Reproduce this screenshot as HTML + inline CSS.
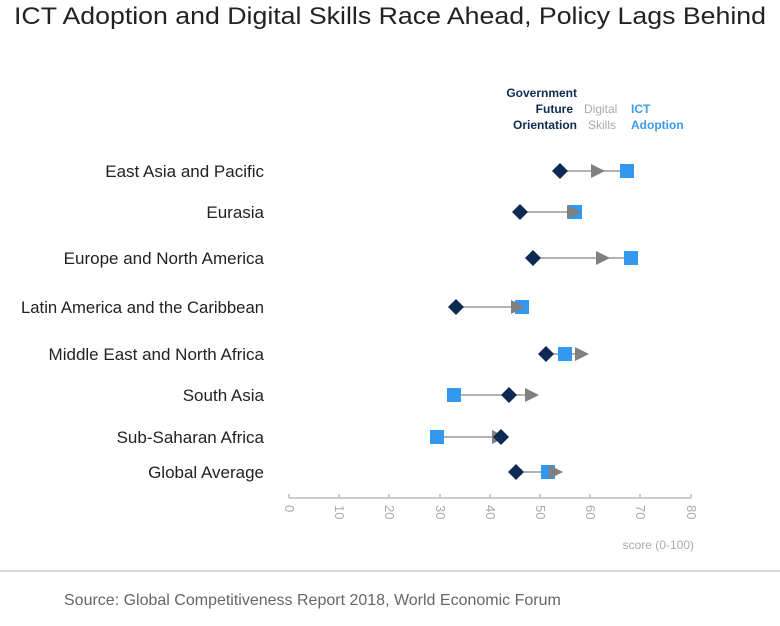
<!DOCTYPE html>
<html><head><style>
body{margin:0;background:#fff;width:780px;height:621px;overflow:hidden;font-family:"Liberation Sans",sans-serif}
</style></head><body>
<svg width="780" height="621" xmlns="http://www.w3.org/2000/svg" font-family="Liberation Sans, sans-serif">
<text x="390" y="24" text-anchor="middle" font-size="24" fill="#222" textLength="752" lengthAdjust="spacingAndGlyphs">ICT Adoption and Digital Skills Race Ahead, Policy Lags Behind</text>
<g font-size="12" font-weight="bold">
<text x="577" y="97" text-anchor="end" fill="#0d2b52">Government</text>
<text x="573" y="113" text-anchor="end" fill="#0d2b52">Future</text>
<text x="577" y="129" text-anchor="end" fill="#0d2b52">Orientation</text>
<text x="584" y="113" fill="#aaa" font-weight="normal">Digital</text>
<text x="588" y="129" fill="#aaa" font-weight="normal">Skills</text>
<text x="631" y="113" fill="#3a9be8">ICT</text>
<text x="631" y="129" fill="#3a9be8">Adoption</text>
</g>
<g font-size="17" fill="#222" text-anchor="end">
<text x="264" y="177">East Asia and Pacific</text>
<text x="264" y="218">Eurasia</text>
<text x="264" y="264">Europe and North America</text>
<text x="264" y="313" textLength="243" lengthAdjust="spacingAndGlyphs">Latin America and the Caribbean</text>
<text x="264" y="360">Middle East and North Africa</text>
<text x="264" y="401">South Asia</text>
<text x="264" y="443">Sub-Saharan Africa</text>
<text x="264" y="478">Global Average</text>
</g>
<g stroke="#999" stroke-width="1.5">
<line x1="560" y1="171" x2="627" y2="171"/>
<line x1="520" y1="212" x2="575" y2="212"/>
<line x1="533" y1="258" x2="631" y2="258"/>
<line x1="456" y1="307" x2="522" y2="307"/>
<line x1="546" y1="354" x2="582" y2="354"/>
<line x1="454" y1="395" x2="532" y2="395"/>
<line x1="437" y1="437" x2="501" y2="437"/>
<line x1="516" y1="472" x2="556" y2="472"/>
</g>
<g fill="#3399ee">
<rect x="620" y="164" width="14" height="14"/>
<rect x="568" y="205" width="14" height="14"/>
<rect x="624" y="251" width="14" height="14"/>
<rect x="515" y="300" width="14" height="14"/>
<rect x="558" y="347" width="14" height="14"/>
<rect x="447" y="388" width="14" height="14"/>
<rect x="430" y="430" width="14" height="14"/>
<rect x="541" y="465" width="14" height="14"/>
</g>
<g fill="#808080">
<polygon points="591,164 605,171 591,178"/>
<polygon points="567,205 581,212 567,219"/>
<polygon points="596,251 610,258 596,265"/>
<polygon points="511,300 525,307 511,314"/>
<polygon points="575,347 589,354 575,361"/>
<polygon points="525,388 539,395 525,402"/>
<polygon points="492,430 506,437 492,444"/>
<polygon points="549,465 563,472 549,479"/>
</g>
<g fill="#0d2b52">
<polygon points="560,163 568,171 560,179 552,171"/>
<polygon points="520,204 528,212 520,220 512,212"/>
<polygon points="533,250 541,258 533,266 525,258"/>
<polygon points="456,299 464,307 456,315 448,307"/>
<polygon points="546,346 554,354 546,362 538,354"/>
<polygon points="509,387 517,395 509,403 501,395"/>
<polygon points="501,429 509,437 501,445 493,437"/>
<polygon points="516,464 524,472 516,480 508,472"/>
</g>
<line x1="289" y1="498" x2="691" y2="498" stroke="#bbb" stroke-width="1.5"/>
<g stroke="#bbb" stroke-width="1.5">
<line x1="289" y1="494" x2="289" y2="498"/><line x1="339" y1="494" x2="339" y2="498"/><line x1="389" y1="494" x2="389" y2="498"/><line x1="440" y1="494" x2="440" y2="498"/><line x1="490" y1="494" x2="490" y2="498"/><line x1="540" y1="494" x2="540" y2="498"/><line x1="590" y1="494" x2="590" y2="498"/><line x1="640" y1="494" x2="640" y2="498"/><line x1="691" y1="494" x2="691" y2="498"/>
</g>
<g font-size="13" fill="#aaa">
<text transform="translate(285,505) rotate(90)">0</text>
<text transform="translate(335,505) rotate(90)">10</text>
<text transform="translate(385,505) rotate(90)">20</text>
<text transform="translate(436,505) rotate(90)">30</text>
<text transform="translate(486,505) rotate(90)">40</text>
<text transform="translate(536,505) rotate(90)">50</text>
<text transform="translate(586,505) rotate(90)">60</text>
<text transform="translate(636,505) rotate(90)">70</text>
<text transform="translate(687,505) rotate(90)">80</text>
</g>
<text x="694" y="549" text-anchor="end" font-size="12" fill="#aaa">score (0-100)</text>
<line x1="0" y1="571" x2="780" y2="571" stroke="#ccc" stroke-width="1.5"/>
<text x="64" y="605" font-size="16" fill="#666">Source: Global Competitiveness Report 2018, World Economic Forum</text>
</svg>
</body></html>
